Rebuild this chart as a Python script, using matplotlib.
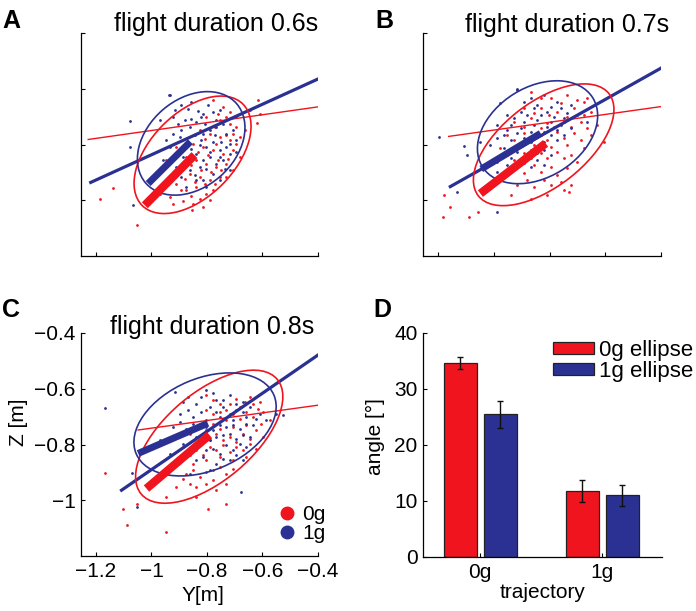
import matplotlib
matplotlib.use("Agg")
import matplotlib.pyplot as plt
from matplotlib.patches import Ellipse
from matplotlib.lines import Line2D
from matplotlib.patches import Patch

plt.rcParams['font.family'] = ['Liberation Sans', 'DejaVu Sans']

RED = '#F0141E'
BLUE = '#2B3192'

# ---------------- scatter data (Y, Z in metres) ----------------
A_blue_y = [-0.936, -0.892, -0.856, -0.832, -0.814, -0.778, -0.754, -0.970, -0.922, -0.904, -0.880, -0.862, -0.838,
            -0.808, -0.790, -0.766, -0.742, -0.730, -0.706, -0.922, -0.898, -0.874, -0.844, -0.820, -0.802, -0.778,
            -0.754, -0.730, -0.934, -0.886, -0.838, -0.814, -0.790, -0.766, -0.742, -0.718, -0.958, -0.910, -0.862,
            -0.826, -0.778, -0.754, -0.994, -0.946, -0.874, -0.838, -0.802, -0.718, -0.694, -1.078, -0.932, -1.066,
            -1.078,
            -0.916, -0.868, -0.820, -0.796, -0.766, -0.892, -0.856, -0.814, -0.772, -0.748, -0.718, -0.946, -0.904,
            -0.856, -0.826, -0.790, -0.754, -0.922, -0.874, -0.802, -0.844, -0.892, -0.814, -0.736, -0.694]
A_blue_z = [-0.623, -0.659, -0.647, -0.679, -0.689, -0.683, -0.677, -0.713, -0.701, -0.725, -0.713, -0.737, -0.719,
            -0.725, -0.749, -0.737, -0.725, -0.761, -0.749, -0.761, -0.773, -0.797, -0.767, -0.785, -0.809, -0.791,
            -0.821, -0.809, -0.809, -0.845, -0.833, -0.857, -0.845, -0.869, -0.857, -0.833, -0.857, -0.881, -0.893,
            -0.881, -0.905, -0.929, -0.929, -0.941, -0.953, -0.929, -0.953, -0.893, -0.785, -0.715, -0.623, -1.018,
            -0.809,
            -0.677, -0.671, -0.701, -0.659, -0.713, -0.749, -0.707, -0.761, -0.767, -0.791, -0.797, -0.785, -0.827,
            -0.815, -0.803, -0.827, -0.845, -0.857, -0.869, -0.887, -0.911, -0.917, -0.929, -0.887, -0.827]
A_red_y = [-0.778, -0.742, -0.718, -0.694, -0.802, -0.754, -0.718, -0.694, -0.826, -0.790, -0.754, -0.718, -0.682,
           -0.850, -0.814, -0.778, -0.742, -0.706, -0.682, -0.874, -0.838, -0.802, -0.766, -0.730, -0.898, -0.862,
           -0.826, -0.790, -0.754, -0.910, -0.874, -0.838, -0.802, -0.934, -0.886, -0.850, -0.814, -0.970, -0.646,
           -0.610, -0.910, -0.946, -0.706, -0.778, -1.186, -1.054, -1.140, -0.621, -0.617, -0.790, -0.854,
           -0.760, -0.730, -0.706, -0.772, -0.808, -0.766, -0.730, -0.694, -0.832, -0.796, -0.760, -0.724, -0.856,
           -0.820, -0.784, -0.748, -0.880, -0.844, -0.808, -0.772, -0.892, -0.856, -0.826, -0.922, -0.664, -0.730]
A_red_z = [-0.641, -0.665, -0.683, -0.701, -0.701, -0.713, -0.725, -0.737, -0.749, -0.761, -0.773, -0.785, -0.773,
           -0.797, -0.809, -0.821, -0.833, -0.821, -0.845, -0.845, -0.857, -0.869, -0.881, -0.869, -0.893, -0.905,
           -0.917, -0.929, -0.917, -0.941, -0.965, -0.953, -0.977, -0.989, -1.001, -1.013, -1.025, -0.977, -0.677,
           -0.689, -0.809, -0.857, -0.893, -0.965, -0.996, -1.089, -0.955, -0.722, -0.641, -1.000, -1.036,
           -0.689, -0.701, -0.761, -0.737, -0.779, -0.797, -0.767, -0.797, -0.827, -0.839, -0.857, -0.851, -0.875,
           -0.893, -0.899, -0.893, -0.923, -0.935, -0.941, -0.941, -0.965, -0.983, -0.995, -1.013, -0.749, -0.917]

B_blue_y = [-0.976, -0.916, -0.868, -0.820, -0.772, -0.952, -0.904, -0.856, -0.808, -0.760, -0.724, -0.988, -0.940,
            -0.892, -0.844, -0.796, -0.748, -0.700, -0.964, -0.916, -0.868, -0.820, -0.772, -0.724, -1.012, -0.964,
            -0.916, -0.868, -0.820, -0.772, -0.940, -0.892, -0.844, -0.796, -0.868, -0.820, -1.048, -1.096, -0.664,
            -0.988, -1.195, -1.108, -1.132, -0.916, -0.988,
            -0.892, -0.844, -0.796, -0.928, -0.880, -0.832, -0.784, -0.736, -0.952, -0.904, -0.856, -0.808, -0.760,
            -0.988, -0.940, -0.892, -0.844, -0.796, -0.748, -0.916, -0.868, -0.820, -0.892, -0.844, -0.952]
B_blue_z = [-0.652, -0.604, -0.634, -0.622, -0.646, -0.694, -0.682, -0.670, -0.682, -0.670, -0.658, -0.730, -0.730,
            -0.718, -0.712, -0.718, -0.706, -0.694, -0.766, -0.760, -0.754, -0.754, -0.748, -0.742, -0.802, -0.814,
            -0.802, -0.790, -0.790, -0.784, -0.850, -0.844, -0.832, -0.838, -0.880, -0.874, -0.790, -0.838, -0.718,
            -0.898, -0.773, -0.805, -0.972, -0.601, -1.041,
            -0.646, -0.658, -0.664, -0.706, -0.694, -0.694, -0.700, -0.688, -0.748, -0.742, -0.730, -0.736, -0.730,
            -0.778, -0.784, -0.778, -0.772, -0.766, -0.766, -0.826, -0.820, -0.820, -0.868, -0.856, -0.874]
B_red_y = [-0.868, -0.796, -0.736, -0.676, -0.892, -0.832, -0.772, -0.712, -0.652, -0.928, -0.868, -0.808, -0.748,
           -0.688, -0.628, -0.952, -0.892, -0.832, -0.772, -0.712, -0.652, -0.976, -0.916, -0.856, -0.796, -0.736,
           -0.676, -0.988, -0.928, -0.868, -0.808, -0.748, -0.700, -0.952, -0.892, -0.832, -0.772, -0.724, -0.916,
           -0.856, -0.796, -0.940, -0.868, -0.808, -0.748, -0.604, -1.180, -1.182, -1.156, -1.090, -1.056, -0.731,
           -0.667,
           -0.832, -0.760, -0.700, -0.856, -0.802, -0.736, -0.676, -0.892, -0.832, -0.784, -0.724, -0.664, -0.928,
           -0.868, -0.808, -0.748, -0.688, -0.952, -0.892, -0.832, -0.772, -0.724, -0.916, -0.856, -0.796, -0.736,
           -0.880, -0.820, -0.760]
B_red_z = [-0.610, -0.634, -0.622, -0.646, -0.670, -0.670, -0.682, -0.670, -0.682, -0.718, -0.706, -0.724, -0.718,
           -0.718, -0.730, -0.766, -0.760, -0.766, -0.754, -0.760, -0.766, -0.814, -0.808, -0.802, -0.808, -0.802,
           -0.814, -0.862, -0.856, -0.850, -0.850, -0.850, -0.862, -0.898, -0.904, -0.898, -0.910, -0.946, -0.946,
           -0.952, -0.946, -0.982, -0.994, -0.982, -0.964, -0.790, -0.981, -1.061, -1.025, -1.059, -1.042, -0.972,
           -0.633,
           -0.634, -0.652, -0.640, -0.688, -0.694, -0.700, -0.694, -0.736, -0.742, -0.736, -0.736, -0.742, -0.784,
           -0.778, -0.784, -0.778, -0.784, -0.838, -0.832, -0.832, -0.826, -0.838, -0.880, -0.874, -0.880, -0.886,
           -0.928, -0.928, -0.934]

C_blue_y = [-0.916, -0.868, -0.802, -0.766, -0.718, -0.670, -0.838, -0.790, -0.742, -0.694, -0.646, -0.898, -0.850,
            -0.802, -0.754, -0.706, -0.658, -0.610, -0.922, -0.874, -0.826, -0.778, -0.730, -0.682, -0.634, -0.586,
            -0.838, -0.790, -0.742, -0.694, -0.646, -0.886, -0.802, -0.754, -0.706, -0.658, -0.838, -0.766, -0.718,
            -0.934, -0.970, -0.550, -0.670, -0.862, -0.790, -1.168, -1.072, -0.527, -1.054, -0.677,
            -0.886, -0.820, -0.778, -0.742, -0.694, -0.868, -0.820, -0.766, -0.718, -0.670, -0.622, -0.898, -0.850,
            -0.802, -0.754, -0.706, -0.658, -0.814, -0.766, -0.718, -0.670, -0.862, -0.778, -0.730, -0.682, -0.814,
            -0.742, -0.694]
C_blue_z = [-0.611, -0.629, -0.605, -0.641, -0.623, -0.647, -0.653, -0.665, -0.665, -0.677, -0.665, -0.689, -0.701,
            -0.713, -0.701, -0.713, -0.701, -0.689, -0.737, -0.743, -0.737, -0.749, -0.737, -0.743, -0.731, -0.713,
            -0.773, -0.785, -0.767, -0.779, -0.773, -0.797, -0.821, -0.833, -0.821, -0.809, -0.857, -0.869, -0.857,
            -0.833, -0.785, -0.689, -0.857, -0.905, -0.893, -0.670, -0.904, -0.694, -1.024, -0.970,
            -0.647, -0.629, -0.617, -0.641, -0.653, -0.677, -0.683, -0.683, -0.689, -0.683, -0.707, -0.719, -0.725,
            -0.737, -0.731, -0.731, -0.725, -0.761, -0.773, -0.761, -0.767, -0.827, -0.815, -0.803, -0.797, -0.845,
            -0.851, -0.839]
C_red_y = [-0.802, -0.754, -0.694, -0.646, -0.778, -0.730, -0.682, -0.634, -0.598, -0.826, -0.778, -0.730, -0.682,
           -0.634, -0.574, -0.862, -0.814, -0.766, -0.718, -0.670, -0.622, -0.886, -0.838, -0.790, -0.742, -0.694,
           -0.646, -0.598, -0.898, -0.850, -0.802, -0.754, -0.706, -0.658, -0.934, -0.874, -0.826, -0.778, -0.730,
           -0.910, -0.862, -0.802, -0.766, -0.838, -0.946, -1.168, -1.104, -1.090, -0.946, -0.731, -0.797, -1.054,
           -0.778, -0.718, -0.664, -0.610, -0.802, -0.754, -0.706, -0.658, -0.616, -0.802, -0.754, -0.706, -0.658,
           -0.604, -0.838, -0.790, -0.742, -0.694, -0.646, -0.862, -0.814, -0.766, -0.718, -0.670, -0.622, -0.850,
           -0.802, -0.754, -0.706, -0.886, -0.838, -0.778, -0.730]
C_red_z = [-0.623, -0.653, -0.635, -0.629, -0.689, -0.677, -0.665, -0.653, -0.683, -0.725, -0.725, -0.713, -0.707,
           -0.701, -0.713, -0.761, -0.773, -0.761, -0.773, -0.761, -0.749, -0.809, -0.821, -0.809, -0.803, -0.809,
           -0.797, -0.773, -0.857, -0.869, -0.857, -0.845, -0.857, -0.845, -0.893, -0.905, -0.917, -0.893, -0.905,
           -0.953, -0.941, -0.941, -0.965, -0.989, -0.989, -0.904, -1.033, -1.089, -1.113, -1.012, -1.033, -1.012,
           -0.641, -0.653, -0.647, -0.647, -0.677, -0.683, -0.689, -0.683, -0.671, -0.749, -0.743, -0.737, -0.731,
           -0.725, -0.791, -0.785, -0.785, -0.791, -0.779, -0.839, -0.839, -0.821, -0.827, -0.821, -0.815, -0.893,
           -0.899, -0.881, -0.887, -0.923, -0.953, -0.929, -0.941]

# ---------------- fitted lines (Y0, Y1, Z0, Z1) ----------------
A_fit_blue = [-1.219, -0.400, -0.936, -0.565]
A_fit_red = [-1.228, -0.400, -0.782, -0.665]
A_traj_blue = [-1.012, -0.860, -0.940, -0.790]
A_traj_red = [-1.024, -0.845, -1.018, -0.838]

B_fit_blue = [-1.156, -0.400, -0.951, -0.526]
B_fit_red = [-1.162, -0.400, -0.771, -0.664]
B_traj_blue = [-1.045, -0.832, -0.888, -0.760]
B_traj_red = [-1.048, -0.814, -0.976, -0.796]

C_fit_blue = [-1.108, -0.400, -0.964, -0.479]
C_fit_red = [-1.048, -0.400, -0.748, -0.659]
C_traj_blue = [-1.048, -0.797, -0.832, -0.724]
C_traj_red = [-1.018, -0.791, -0.958, -0.766]

# ---------------- ellipses (centre Y, centre Z, width, height, angle deg) ----------------
A_ell_blue = [-0.857, -0.796, 0.434, 0.316, 41]
A_ell_red = [-0.852, -0.837, 0.514, 0.302, 45]
B_ell_blue = [-0.843, -0.756, 0.467, 0.323, 32]
B_ell_red = [-0.821, -0.801, 0.595, 0.302, 38]
C_ell_blue = [-0.807, -0.728, 0.539, 0.330, 23]
C_ell_red = [-0.792, -0.772, 0.640, 0.316, 40]

titles = ['flight duration 0.6s', 'flight duration 0.7s', 'flight duration 0.8s']

# ---------------- bar data (panel D) ----------------
groups = ['0g', '1g']
ell0_mean = [34.6, 11.8]
ell0_err = [1.1, 2.0]
ell1_mean = [25.5, 11.0]
ell1_err = [2.4, 1.9]
bar_labels = ['0g ellipse', '1g ellipse']
xticks_m = [-1.2, -1.0, -0.8, -0.6, -0.4]
xticklabels_m = ['\u22121.2', '\u22121', '\u22120.8', '\u22120.6', '\u22120.4']
yticks_m = [-1.0, -0.8, -0.6, -0.4]
yticklabels_m = ['\u22121', '\u22120.8', '\u22120.6', '\u22120.4']

W, H = 696, 611
fig = plt.figure(figsize=(W / 100, H / 100), dpi=100)


def rect(l, r, t, b):
    return [l / W, 1 - b / H, (r - l) / W, (b - t) / H]


def style(ax):
    for s in ['top', 'right']:
        ax.spines[s].set_visible(False)
    for s in ['left', 'bottom']:
        ax.spines[s].set_linewidth(0.9)
    ax.tick_params(direction='in', length=3, width=0.8, labelsize=15, pad=4)


def scatter_panel(ax, by, bz, ry, rz, fb, fr, tb, tr, eb, er, labels):
    ax.scatter(ry, rz, s=4, color=RED, linewidths=0, zorder=2)
    ax.scatter(by, bz, s=4, color=BLUE, linewidths=0, zorder=2)
    ax.plot(fr[:2], fr[2:], color=RED, lw=1.0, zorder=3)
    ax.plot(fb[:2], fb[2:], color=BLUE, lw=2.3, zorder=3)
    for e, c in [(er, RED), (eb, BLUE)]:
        ax.add_patch(Ellipse((e[0], e[1]), e[2], e[3], angle=e[4], fill=False,
                             edgecolor=c, lw=1.2, zorder=4))
    ax.plot(tr[:2], tr[2:], color=RED, lw=6.0, zorder=5, solid_capstyle='butt')
    ax.plot(tb[:2], tb[2:], color=BLUE, lw=5.0, zorder=5, solid_capstyle='butt')
    ax.set_xlim(-1.254, -0.4)
    ax.set_ylim(-1.2, -0.4)
    ax.set_xticks(xticks_m)
    ax.set_yticks(yticks_m)
    if labels:
        ax.set_xticklabels(xticklabels_m)
        ax.set_yticklabels(yticklabels_m)
    else:
        ax.set_xticklabels([])
        ax.set_yticklabels([])
    style(ax)


axA = fig.add_axes(rect(81, 318, 33, 256))
scatter_panel(axA, A_blue_y, A_blue_z, A_red_y, A_red_z, A_fit_blue, A_fit_red,
              A_traj_blue, A_traj_red, A_ell_blue, A_ell_red, False)
axB = fig.add_axes(rect(423, 661, 33, 256))
scatter_panel(axB, B_blue_y, B_blue_z, B_red_y, B_red_z, B_fit_blue, B_fit_red,
              B_traj_blue, B_traj_red, B_ell_blue, B_ell_red, False)
axC = fig.add_axes(rect(81, 318, 333, 556))
scatter_panel(axC, C_blue_y, C_blue_z, C_red_y, C_red_z, C_fit_blue, C_fit_red,
              C_traj_blue, C_traj_red, C_ell_blue, C_ell_red, True)
axC.set_ylabel('Z [m]', fontsize=15)
axC.yaxis.set_label_coords(-0.225, 0.6)
axC.set_xlabel('Y[m]', fontsize=15, va='top')
axC.xaxis.set_label_coords(0.513, -0.135)
handles = [Line2D([], [], ls='none', marker='o', ms=9, color=RED),
           Line2D([], [], ls='none', marker='o', ms=9, color=BLUE)]
axC.legend(handles, groups, loc='center left', bbox_to_anchor=((279 - 81) / 237, (556 - 524) / 223),
           frameon=False, fontsize=15, handlelength=0.8, handletextpad=0.3, labelspacing=0.0,
           borderpad=0, borderaxespad=0)

# ---------------- panel D ----------------
axD = fig.add_axes(rect(423, 662, 333, 557))
x = [1, 2]
off = 0.165
bw = 0.27
axD.bar([v - off for v in x], ell0_mean, bw, color=RED, edgecolor='#222222', lw=0.9, zorder=2)
axD.bar([v + off for v in x], ell1_mean, bw, color=BLUE, edgecolor='#222222', lw=0.9, zorder=2)
axD.errorbar([v - off for v in x], ell0_mean, yerr=ell0_err, fmt='none', ecolor='#111111',
             elinewidth=1.0, capsize=2, capthick=1.0, zorder=3)
axD.errorbar([v + off for v in x], ell1_mean, yerr=ell1_err, fmt='none', ecolor='#111111',
             elinewidth=1.0, capsize=2, capthick=1.0, zorder=3)
axD.set_xlim(0.53, 2.49)
axD.set_ylim(0, 40)
axD.set_xticks(x)
axD.set_xticklabels(groups)
axD.set_yticks([0, 10, 20, 30, 40])
style(axD)
axD.set_ylabel('angle [\u00b0]', fontsize=15)
axD.yaxis.set_label_coords(-0.159, 0.536)
axD.set_xlabel('trajectory', fontsize=15, va='top')
axD.xaxis.set_label_coords(0.502, -0.116)
ph = [Patch(facecolor=RED, edgecolor='#222222', lw=0.9), Patch(facecolor=BLUE, edgecolor='#222222', lw=0.9)]
axD.legend(ph, bar_labels, loc='upper left', bbox_to_anchor=((553 - 423) / 239, (557 - 340) / 224),
           frameon=False, fontsize=16, handlelength=1.85, handleheight=0.5, handletextpad=0.2,
           labelspacing=0.0, borderpad=0, borderaxespad=0)

# ---------------- titles and panel letters ----------------
fig.text(215.7 / W, 1 - 31.5 / H, titles[0], fontsize=18, ha='center', va='baseline')
fig.text(567 / W, 1 - 32 / H, titles[1], fontsize=18, ha='center', va='baseline')
fig.text(211.7 / W, 1 - 334 / H, titles[2], fontsize=18, ha='center', va='baseline')
for lab, px, py in [('A', 2, 28), ('B', 375, 28), ('C', 2, 317), ('D', 373, 317)]:
    fig.text(px / W, 1 - py / H, lab, fontsize=18, fontweight='bold', ha='left', va='baseline')

fig.savefig('out.png', dpi=100)
